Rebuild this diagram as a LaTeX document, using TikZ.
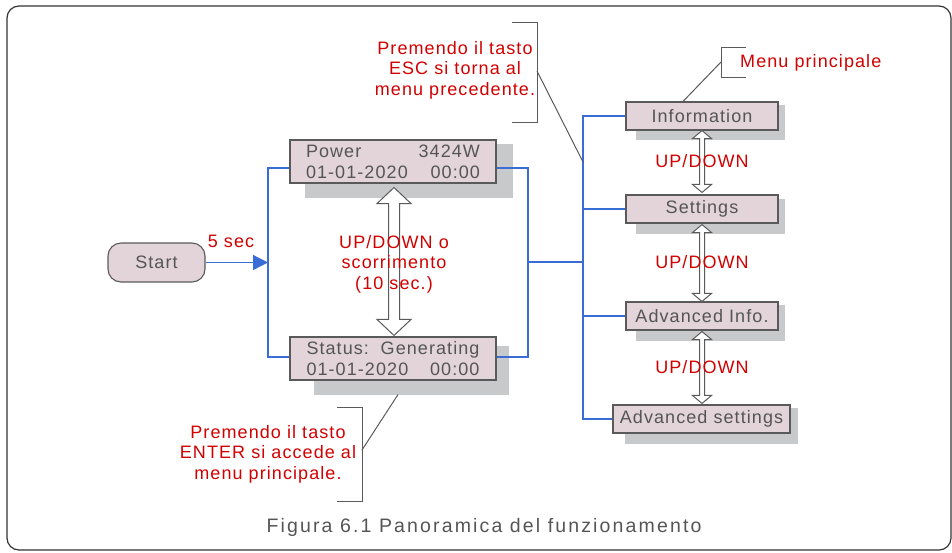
\documentclass[tikz,border=0pt]{standalone}
\usepackage{fontspec}
\setmainfont{Liberation Sans}[LetterSpace=6]
\usetikzlibrary{calc,arrows.meta,backgrounds}
\definecolor{boxfill}{HTML}{E2D4D9}
\definecolor{shad}{HTML}{C8C9CB}
\definecolor{bord}{HTML}{5A5A5A}
\definecolor{txt}{HTML}{555555}
\definecolor{redt}{HTML}{D20000}
\definecolor{bl}{HTML}{3A6CD6}
\newcommand\hollowarr[5]{%
  \draw[harrow] (#1) -- ($(#1)+(#4,#5)$) -- ($(#1)+(#3,#5)$) -- ($(#2)+(#3,-#5)$) -- ($(#2)+(#4,-#5)$) -- (#2)
    -- ($(#2)+(-#4,-#5)$) -- ($(#2)+(-#3,-#5)$) -- ($(#1)+(-#3,#5)$) -- ($(#1)+(-#4,#5)$) -- cycle;}
\tikzset{
  box/.style={draw=bord, fill=boxfill, line width=1.1pt, inner sep=0pt, text=txt, align=center,
    font=\fontsize{18}{21}\selectfont},
  redlbl/.style={text=redt, font=\fontsize{18}{20.5}\selectfont, align=center, inner sep=0pt},
  blueline/.style={draw=bl, line width=1.3pt},
  callout/.style={draw=bord, line width=1pt},
  harrow/.style={draw=bord, fill=white, line width=1pt, line join=miter},
  shadowfill/.style={fill=shad},
}
\begin{document}
\begin{tikzpicture}[x=1pt,y=-1pt]
\useasboundingbox (0,0) rectangle (952,552);
\draw[draw=black!80, line width=1.2pt, rounded corners=12pt] (7,6) rectangle (951,550);

% nodes
\node[box, rounded corners=13pt, minimum width=97pt, minimum height=39pt] (start) at (156.5,262.5) {Start};
\node[box, minimum width=206pt, minimum height=43pt] (pw) at (393,161.5)
  {\makebox[174pt]{Power\hfill 3424W}\\\makebox[174pt]{01-01-2020\hfill 00:00}};
\node[box, minimum width=206pt, minimum height=43pt] (st) at (393,358.5)
  {\makebox[173pt]{Status:\hfill Generating}\\\makebox[173pt]{01-01-2020\hfill 00:00}};
\node[box, minimum width=152pt, minimum height=28pt] (info) at (702,116) {Information};
\node[box, minimum width=152pt, minimum height=28pt] (set) at (702,209) {Settings};
\node[box, minimum width=152pt, minimum height=28pt] (ainfo) at (702,316) {Advanced Info.};
\node[box, minimum width=177pt, minimum height=28pt] (aset) at (701.5,419) {Advanced settings};

% shadows
\begin{scope}[on background layer]
  \fill[shadowfill] ($(pw.north west)+(16,5)$) rectangle ($(pw.south east)+(16,14)$);
  \fill[shadowfill] ($(st.north west)+(25,10)$) rectangle ($(st.south east)+(12,14)$);
  \fill[shadowfill] ($(info.north west)+(11,4)$) rectangle ($(info.south east)+(6,9)$);
  \fill[shadowfill] ($(set.north west)+(11,5)$) rectangle ($(set.south east)+(6,10)$);
  \fill[shadowfill] ($(ainfo.north west)+(11,4)$) rectangle ($(ainfo.south east)+(6,10)$);
  \fill[shadowfill] ($(aset.north west)+(13,4)$) rectangle ($(aset.south east)+(7,10)$);
\end{scope}

% junction coordinates
\coordinate (jl) at (268,262.5);
\coordinate (jr) at (528,262);
\coordinate (bus) at (583,262);

% blue connectors
\draw[blueline, -{Triangle[length=15pt,width=15pt]}] (start.east) -- (jl);
\draw[blueline] ($(pw.west)+(0,6.5)$) -| (jl) |- ($(st.west)+(0,-1.5)$);
\draw[blueline] ($(pw.east)+(0,6.5)$) -| (jr) |- ($(st.east)+(0,-1.5)$);
\draw[blueline] (jr) -- (bus);
\draw[blueline] (info.west) -| (bus) |- (aset.west);
\draw[blueline] (set.west) -- (set.west -| bus);
\draw[blueline] (ainfo.west) -- (ainfo.west -| bus);

% hollow double arrows
\coordinate (a0) at ($(pw.south)+(1,4)$);
\coordinate (b0) at ($(st.north)+(1,-1)$);
\hollowarr{a0}{b0}{5.5}{17}{16}
\coordinate (a1) at (info.south);
\coordinate (b1) at ($(set.north)+(0,-2)$);
\hollowarr{a1}{b1}{2.5}{9.5}{8}
\coordinate (a2) at ($(set.south)+(0,1)$);
\coordinate (b2) at (ainfo.north);
\hollowarr{a2}{b2}{2.5}{9.5}{8}
\coordinate (a3) at ($(ainfo.south)+(0,1)$);
\coordinate (b3) at ($(aset.north)+(0.5,-1)$);
\hollowarr{a3}{b3}{2.5}{9.5}{8}

% red labels
\node[redlbl] (l5) at (231,241) {5 sec};
\node[redlbl] (lud) at (394,264) {UP/DOWN o\\scorrimento\\(10 sec.)};
\node[redlbl] (ud1) at (702,161) {UP/DOWN};
\node[redlbl] (ud2) at (702,262) {UP/DOWN};
\node[redlbl] (ud3) at (702,367) {UP/DOWN};

% callouts
\node[redlbl] (esc) at (455,70) {Premendo il tasto\\ESC si torna al\\menu precedente.};
\coordinate (escT) at (537,22);
\coordinate (escB) at (537,122);
\coordinate (escM) at (537,71);
\coordinate (escE) at (583,162);
\draw[callout] ($(escT)+(-25,0)$) -- (escT) -- (escB) -- ($(escB)+(-25,0)$);
\draw[callout] (escM) -- (escE);

\node[redlbl, anchor=west] (mp) at (740,63) {Menu principale};
\coordinate (mpT) at (721,47);
\coordinate (mpB) at (721,77);
\coordinate (mpM) at (721,62);
\draw[callout] ($(mpT)+(25,0)$) -- (mpT) -- (mpB) -- ($(mpB)+(25,0)$);
\draw[callout] (mpM) -- ($(info.north)+(-19,0)$);

\node[redlbl] (ent) at (268,454) {Premendo il tasto\\ENTER si accede al\\menu principale.};
\coordinate (entT) at (362,407);
\coordinate (entB) at (362,501);
\coordinate (entM) at (362,450);
\draw[callout] ($(entT)+(-25,0)$) -- (entT) -- (entB) -- ($(entB)+(-25,0)$);
\draw[callout] (entM) -- ($(st.south)+(5,14)$);

% caption
\node[text=txt, font=\fontsize{19.5}{22}\selectfont\addfontfeatures{LetterSpace=11}, inner sep=0pt] (cap) at (484,527)
  {Figura 6.1 Panoramica del funzionamento};
\end{tikzpicture}
\end{document}
